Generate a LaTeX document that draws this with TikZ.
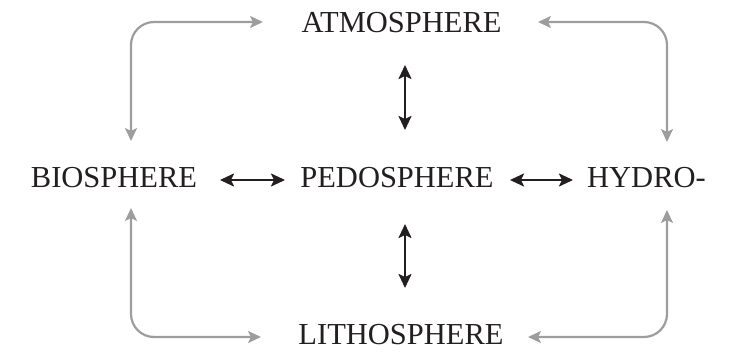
\documentclass[tikz,border=0pt]{standalone}
\usepackage{fontspec}
\setmainfont{Liberation Serif}
\usetikzlibrary{arrows.meta}
\definecolor{ink}{HTML}{231F20}
\definecolor{cyclegray}{HTML}{9D9D9D}
\begin{document}
\begin{tikzpicture}[x=1pt,y=-1pt,
  sphere/.style={inner sep=0pt, anchor=base, text=ink, font=\fontsize{30.5}{35}\selectfont},
  exchange/.style={draw=ink, line width=2.2pt, {Stealth[length=14pt,width=13pt,inset=3pt]}-{Stealth[length=14pt,width=13pt,inset=3pt]}},
  cycle/.style={draw=cyclegray, line width=2.2pt, rounded corners=23pt, {Stealth[length=13pt,width=12pt,inset=3pt]}-{Stealth[length=13pt,width=12pt,inset=3pt]}}]
\useasboundingbox (0,0) rectangle (745,356);

% the five spheres
\node[sphere] (atm) at (401.5,32) {ATMOSPHERE};
\node[sphere] (bio) at (114,187.5) {BIOSPHERE};
\node[sphere] (ped) at (397,187.5) {PEDOSPHERE};
\node[sphere] (hyd) at (646.5,187.5) {HYDRO-};
\node[sphere] (lit) at (401,344) {LITHOSPHERE};

% arrow ends beside the outer spheres
\coordinate (atmL) at (263,22);
\coordinate (atmR) at (538,22);
\coordinate (bioT) at (131,141);
\coordinate (bioB) at (131,208);
\coordinate (hydT) at (667,142);
\coordinate (hydB) at (667,210);
\coordinate (litL) at (261,337);
\coordinate (litR) at (528,337);

% outer cycle
\draw[cycle] (atmL) -| (bioT);
\draw[cycle] (atmR) -| (hydT);
\draw[cycle] (litL) -| (bioB);
\draw[cycle] (litR) -| (hydB);

% exchanges with the pedosphere
\coordinate (pedL1) at (220,180);
\coordinate (pedL2) at (285,180);
\coordinate (pedR1) at (510,180);
\coordinate (pedR2) at (573,180);
\coordinate (pedU1) at (405,65);
\coordinate (pedU2) at (405,130);
\coordinate (pedD1) at (405,224);
\coordinate (pedD2) at (405,288);
\draw[exchange] (pedL1) -- (pedL2);
\draw[exchange] (pedR1) -- (pedR2);
\draw[exchange] (pedU1) -- (pedU2);
\draw[exchange] (pedD1) -- (pedD2);
\end{tikzpicture}
\end{document}
